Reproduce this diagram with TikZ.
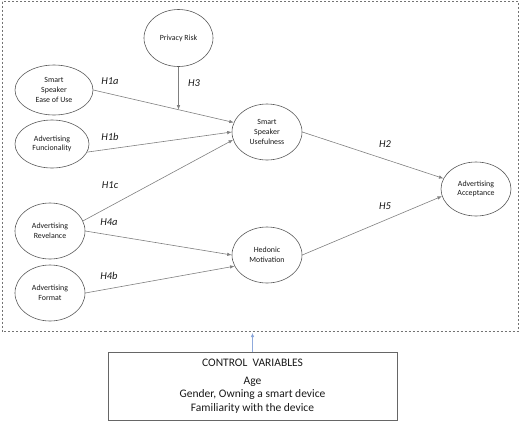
\documentclass[tikz,border=0pt]{standalone}
\usepackage{fontspec}
\setmainfont{Carlito}
\usetikzlibrary{shapes.geometric,arrows.meta}
\begin{document}
\begin{tikzpicture}[x=1pt,y=-1pt,
    latent/.style={draw=black!65,line width=0.6pt,ellipse,inner sep=0pt,align=center,
      text=black!90,font=\fontsize{7.9}{9.6}\selectfont},
    hyp/.style={text=black!90,font=\itshape\fontsize{10.5}{12}\selectfont},
    link/.style={draw=black!50,line width=0.6pt,-{Latex[length=4.5pt,width=3.5pt]}}]
      \useasboundingbox (0,0) rectangle (520,421);
      \draw[black!55,line width=0.8pt,dash pattern=on 2pt off 2pt] (2,1.5) rectangle (518.5,331);
      \draw
        (178.5,38) node[latent,minimum width=69pt,minimum height=57pt] (risk){Privacy Risk}
        (54,90) node[latent,minimum width=78pt,minimum height=50pt] (ease){Smart\\Speaker\\Ease of Use}
        (52,144) node[latent,minimum width=74pt,minimum height=48pt] (func){Advertising\\Funcionality}
        (50,231) node[latent,minimum width=70pt,minimum height=56pt] (rel){Advertising\\Revelance}
        (50,293) node[latent,minimum width=70pt,minimum height=56pt] (form){Advertising\\Format}
        (267,132) node[latent,minimum width=70pt,minimum height=56pt] (use){Smart\\Speaker\\Usefulness}
        (267,255) node[latent,minimum width=70pt,minimum height=56pt] (hed){Hedonic\\Motivation}
        (476,189) node[latent,minimum width=70pt,minimum height=54pt] (acc){Advertising\\Acceptance};
      \draw
        (110,81) node[hyp] (h1a){H1a}
        (194,83) node[hyp] (h3){H3}
        (110,137) node[hyp] (h1b){H1b}
        (110,185) node[hyp] (h1c){H1c}
        (109,222) node[hyp] (h4a){H4a}
        (109,276) node[hyp] (h4b){H4b}
        (385,144) node[hyp] (h2){H2}
        (385,206) node[hyp] (h5){H5};
      \node[draw=black!60,line width=0.6pt,minimum width=289pt,minimum height=68pt,align=center,
        text=black!90,font=\fontsize{11.5}{13.5}\selectfont] (ctrl) at (252.5,386)
        {CONTROL\ \ VARIABLES\\[4.5pt] Age\\ Gender, Owning a smart device\\ Familiarity with the device};
      \coordinate (meet) at (intersection of ease.east--use.164 and risk.center--risk.south);
      \coordinate (frame) at (252.5,333);
      \begin{scope}[link]
        \draw (ease.east) to (use.164);
        \draw (func.347) to (use.180);
        \draw (rel.17) to (use.193);
        \draw (risk.south) to (meet);
        \draw (rel.east) to (hed.west);
        \draw (form.east) to (hed.199);
        \draw (use.east) to (acc.162);
        \draw (hed.east) to (acc.192);
        \draw[draw={rgb,255:red,143;green,170;blue,220},-{Latex[length=4pt,width=3.5pt,fill={rgb,255:red,68;green,114;blue,196}]}] (ctrl.north) to (frame);
      \end{scope}
    \end{tikzpicture}
\end{document}
